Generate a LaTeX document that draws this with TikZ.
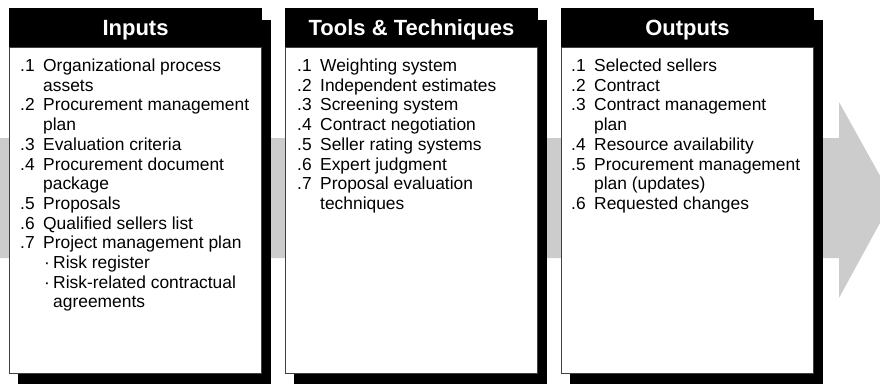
\documentclass[tikz,border=0pt]{standalone}
\usepackage{fontspec}
\setmainfont{Liberation Sans}
\definecolor{arrowgray}{HTML}{CCCCCC}
\definecolor{boxborder}{HTML}{404040}
\newcommand\lnum[2]{\makebox[23pt][l]{#1}#2}
\newcommand\lcont[1]{\hspace*{23pt}#1}
\newcommand\lsub[1]{\hspace*{24pt}\makebox[9pt][l]{·}#1}
\newcommand\lsubcont[1]{\hspace*{33pt}#1}
\begin{document}
\begin{tikzpicture}[x=1pt,y=-1pt,
  arrowshape/.style={fill=arrowgray},
  shadowbox/.style={fill=black},
  headbox/.style={fill=black},
  bodybox/.style={fill=white, draw=boxborder, line width=1pt},
  headtext/.style={text=white, font=\fontsize{22}{26}\selectfont\bfseries, inner sep=0pt, anchor=base},
  listtext/.style={inner sep=0pt, anchor=base west, font=\fontsize{17.4}{19.7}\selectfont}]
\useasboundingbox (0,0) rectangle (880,383);
\clip (0,0) rectangle (880,383);
% background arrow
\fill[arrowshape] (0,138) -- (839,138) -- (839,102) -- (893,199) -- (839,298) -- (839,258) -- (0,258) -- cycle;
% panels
\foreach \L in {9,285,561}{
  \fill[shadowbox] (\L+9,20) rectangle (\L+262,388);
  \draw[bodybox] (\L+0.5,47) rectangle (\L+252.5,373.5);
  \fill[headbox] (\L,8) rectangle (\L+253,47);
}
\node[headtext] (hin) at (135.5,35) {Inputs};
\node[headtext] (htt) at (411.5,35) {Tools \& Techniques};
\node[headtext] (hout) at (687.5,35) {Outputs};
\node[listtext] (lin) at (20,71.5) {\parbox[t]{240pt}{%
\lnum{.1}{Organizational process}\\
\lcont{assets}\\
\lnum{.2}{Procurement management}\\
\lcont{plan}\\
\lnum{.3}{Evaluation criteria}\\
\lnum{.4}{Procurement document}\\
\lcont{package}\\
\lnum{.5}{Proposals}\\
\lnum{.6}{Qualified sellers list}\\
\lnum{.7}{Project management plan}\\
\lsub{Risk register}\\
\lsub{Risk-related contractual}\\
\lsubcont{agreements}}};
\node[listtext] (ltt) at (297,71.5) {\parbox[t]{240pt}{%
\lnum{.1}{Weighting system}\\
\lnum{.2}{Independent estimates}\\
\lnum{.3}{Screening system}\\
\lnum{.4}{Contract negotiation}\\
\lnum{.5}{Seller rating systems}\\
\lnum{.6}{Expert judgment}\\
\lnum{.7}{Proposal evaluation}\\
\lcont{techniques}}};
\node[listtext] (lout) at (571,71.5) {\parbox[t]{240pt}{%
\lnum{.1}{Selected sellers}\\
\lnum{.2}{Contract}\\
\lnum{.3}{Contract management}\\
\lcont{plan}\\
\lnum{.4}{Resource availability}\\
\lnum{.5}{Procurement management}\\
\lcont{plan (updates)}\\
\lnum{.6}{Requested changes}}};
\end{tikzpicture}
\end{document}
